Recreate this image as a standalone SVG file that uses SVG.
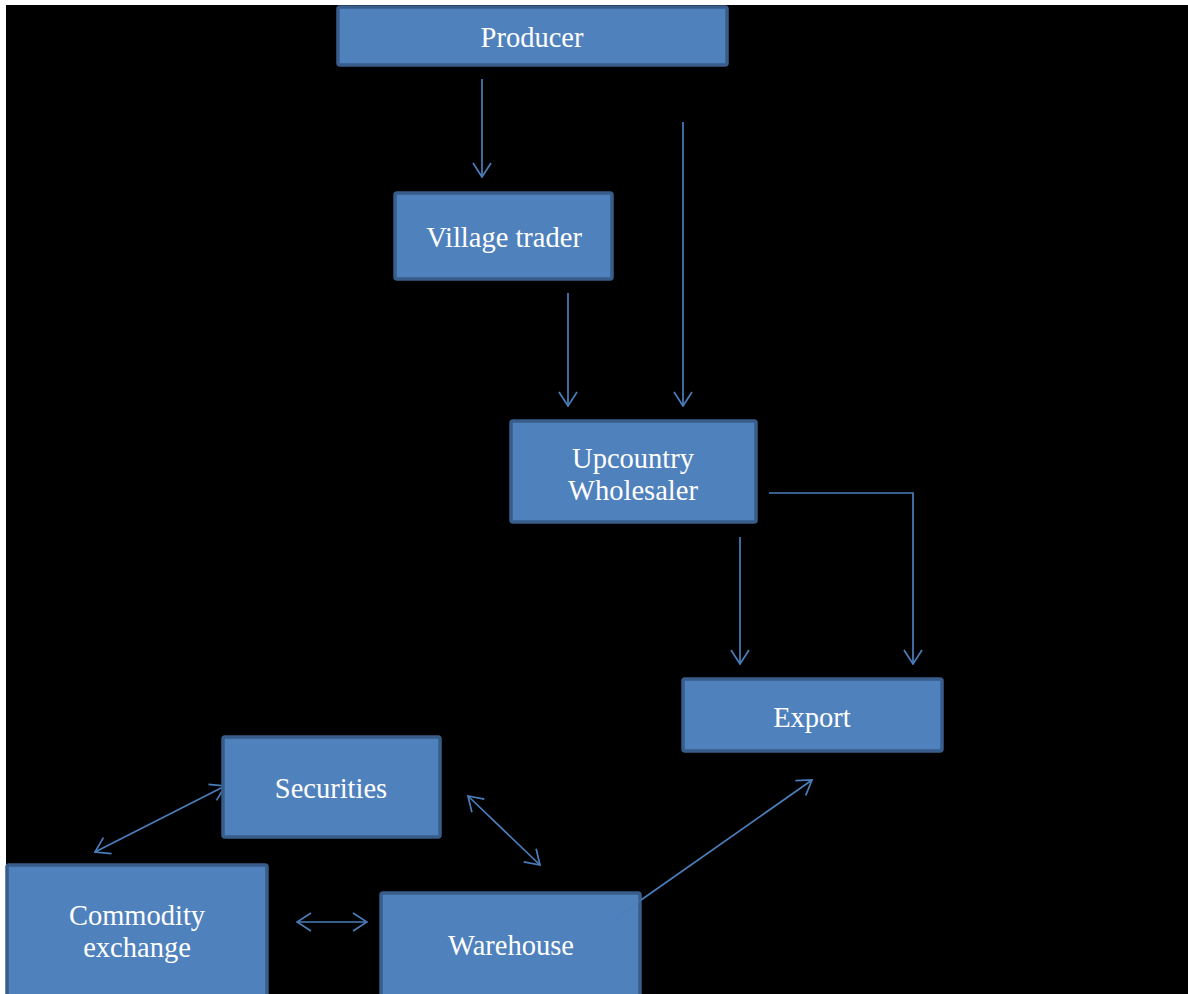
<svg xmlns="http://www.w3.org/2000/svg" width="1188" height="994" viewBox="0 0 1188 994">
<defs>
<style>
.box{fill:#4f81bd;stroke:#385d8a;stroke-width:3.5}
.lbl{font-family:"Liberation Serif","Times New Roman",serif;font-size:28.5px;fill:#ffffff;text-anchor:middle}
.con{fill:none;stroke:#4a7ebb;stroke-width:1.7}
</style>
<marker id="ah" viewBox="0 0 16 20" refX="15" refY="10" markerWidth="16" markerHeight="20" markerUnits="userSpaceOnUse" orient="auto-start-reverse">
<path d="M1,1 L15,10 L1,19" fill="none" stroke="#4a7ebb" stroke-width="1.7"/>
</marker>
</defs>
<rect x="0" y="0" width="1188" height="994" fill="#ffffff"/>
<rect x="6" y="5" width="1182" height="989" fill="#000000"/>
<g id="connectors">
<line class="con" x1="482" y1="79" x2="482" y2="177" marker-end="url(#ah)"/>
<line class="con" x1="683" y1="122" x2="683" y2="406" marker-end="url(#ah)"/>
<line class="con" x1="568" y1="293" x2="568" y2="406" marker-end="url(#ah)"/>
<polyline class="con" points="769,493 913,493 913,664" marker-end="url(#ah)"/>
<line class="con" x1="740" y1="537" x2="740" y2="664" marker-end="url(#ah)"/>
<line class="con" x1="95" y1="852" x2="225" y2="786" marker-start="url(#ah)" marker-end="url(#ah)"/>
<line class="con" x1="468" y1="796" x2="540" y2="865" marker-start="url(#ah)" marker-end="url(#ah)"/>
<line class="con" x1="297" y1="922" x2="367" y2="922" marker-start="url(#ah)" marker-end="url(#ah)"/>
</g>
<g id="producer"><rect class="box" x="338" y="7" width="389" height="58" rx="2"/><text class="lbl" x="532" y="47">Producer</text></g>
<g id="village-trader"><rect class="box" x="395" y="193" width="217" height="86" rx="2"/><text class="lbl" x="504" y="247">Village trader</text></g>
<g id="upcountry-wholesaler"><rect class="box" x="511" y="421" width="245" height="101" rx="2"/><text class="lbl" x="633" y="468">Upcountry</text><text class="lbl" x="633" y="500">Wholesaler</text></g>
<g id="export"><rect class="box" x="683" y="679" width="259" height="72" rx="2"/><text class="lbl" x="812" y="727">Export</text></g>
<g id="securities"><rect class="box" x="223" y="737" width="217" height="100" rx="2"/><text class="lbl" x="331" y="798">Securities</text></g>
<g id="commodity-exchange"><rect class="box" x="7" y="865" width="260" height="132" rx="2"/><text class="lbl" x="137" y="925">Commodity</text><text class="lbl" x="137" y="957">exchange</text></g>
<g id="warehouse"><rect class="box" x="381" y="893" width="259" height="104" rx="2"/><text class="lbl" x="511" y="955">Warehouse</text></g>
<g id="connectors-over">
<line x1="612" y1="921" x2="641" y2="900" stroke="#4a7ebb" stroke-width="1.7" stroke-opacity="0.35"/>
<line class="con" x1="641" y1="900" x2="812" y2="780" marker-end="url(#ah)"/>
</g>
</svg>
